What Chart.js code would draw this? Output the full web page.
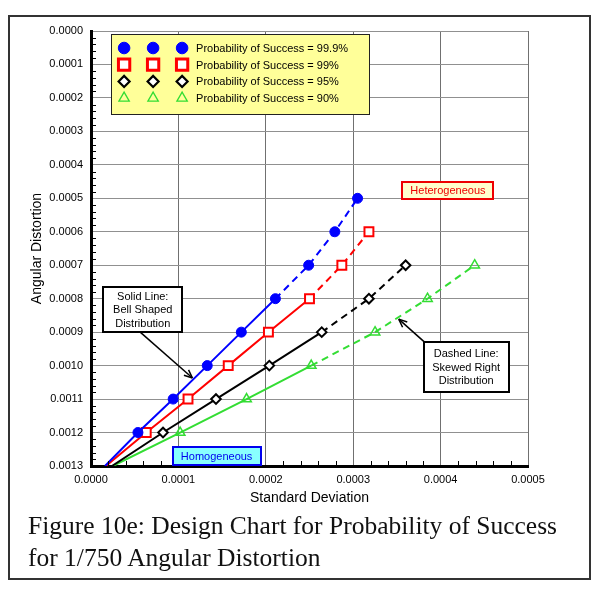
<!DOCTYPE html>
<html>
<head>
<meta charset="utf-8">
<script src="https://cdn.jsdelivr.net/npm/chart.js@4/dist/chart.umd.min.js"></script>
<style>
  body { margin: 0; background: #fff; }
  #wrap { position: relative; width: 600px; height: 600px; }
  #frame { position: absolute; left: 8px; top: 15px; width: 579px; height: 561px; border: 2px solid #333; }
  #chart { position: absolute; left: 0; top: 0; }
  #caption { position: absolute; left: 28px; top: 510px; font-family: "Liberation Serif", serif; font-size: 25.5px; line-height: 32px; color: #111; white-space: nowrap; }
</style>
</head>
<body>
<div id="wrap">
  <div id="frame"></div>
  <canvas id="chart" width="600" height="520"></canvas>
  <div id="caption">Figure 10e: Design Chart for Probability of Success<br>for 1/750 Angular Distortion</div>
</div>
<script>
// angular distortion levels (y) and standard deviation read for each curve (x)
const distortion = [0.0013, 0.0012, 0.0011, 0.0010, 0.0009, 0.0008, 0.0007, 0.0006, 0.0005];

const sd999 = [0.000016, 0.0000537, 0.000094, 0.000133, 0.000172, 0.000211, 0.000249, 0.000279, 0.000305];
const sd99 = [0.000017, 0.0000632, 0.000111, 0.000157, 0.000203, 0.000250, 0.000287, 0.000318];
const sd95 = [0.000024, 0.0000824, 0.000143, 0.000204, 0.000264, 0.000318, 0.000360];
const sd90 = [0.000025, 0.000102, 0.000178, 0.000252, 0.000325, 0.000385, 0.000439];

// last index of the solid (bell shaped) part of each curve
const solidEnd = [5, 5, 4, 3];

const seriesLabels = [
  "Probability of Success = 99.9%",
  "Probability of Success = 99%",
  "Probability of Success = 95%",
  "Probability of Success = 90%"
];

const xTicks = [0, 0.0001, 0.0002, 0.0003, 0.0004, 0.0005];
const yTicks = [0, 0.0001, 0.0002, 0.0003, 0.0004, 0.0005, 0.0006, 0.0007, 0.0008, 0.0009, 0.0010, 0.0011, 0.0012, 0.0013];

const FONT = "'Liberation Sans', Arial, sans-serif";

const styles = [
  { color: "#0000ff", point: "circle", radius: 5, fill: "#0000ff", bw: 1 },
  { color: "#ff0000", point: "rect", radius: 6.3, fill: "#ffffff", bw: 2 },
  { color: "#000000", point: "rectRot", radius: 4.8, fill: "#ffffff", bw: 2 },
  { color: "#33dd33", point: "triangle", radius: 5.5, fill: "rgba(255,255,255,0)", bw: 1.5 }
];

function makeData(xs) {
  return xs.map((x, i) => ({ x: x, y: distortion[i] }));
}

const allSd = [sd999, sd99, sd95, sd90];

const datasets = allSd.map((xs, k) => {
  const s = styles[k];
  return {
    label: seriesLabels[k],
    data: makeData(xs),
    showLine: true,
    borderColor: s.color,
    borderWidth: 2,
    pointStyle: s.point,
    pointRadius: xs.map((_, i) => (i === 0 ? 0 : s.radius)),
    pointBackgroundColor: s.fill,
    pointBorderColor: s.color,
    pointBorderWidth: s.bw,
    segment: {
      borderDash: ctx => (ctx.p0DataIndex >= solidEnd[k] ? [7, 5] : undefined)
    }
  };
});

// text boxes, placed in data units
const notes = [
  { lines: ["Heterogeneous"], x: 0.0004084, y: 0.000476, w: 91, h: 17, fill: "#ffffcc", stroke: "#ee0000", text: "#ee0000", bw: 2 },
  { lines: ["Homogeneous"], x: 0.0001437, y: 0.001270, w: 88, h: 18, fill: "#88ffff", stroke: "#0000ee", text: "#0000ee", bw: 2 },
  { lines: ["Solid Line:", "Bell Shaped", "Distribution"], x: 0.0000592, y: 0.000832, w: 79, h: 45, fill: "#ffffff", stroke: "#000", text: "#000", bw: 2 },
  { lines: ["Dashed Line:", "Skewed Right", "Distribution"], x: 0.0004293, y: 0.001004, w: 85, h: 50, fill: "#ffffff", stroke: "#000", text: "#000", bw: 2 }
];

const arrows = [
  { x0: 0.0000563, y0: 0.000900, x1: 0.0001161, y1: 0.001037 },
  { x0: 0.0003813, y0: 0.000929, x1: 0.0003521, y1: 0.000861 }
];

function drawArrow(c, ax, ay, bx, by) {
  const ang = Math.atan2(by - ay, bx - ax);
  c.strokeStyle = "#000";
  c.lineWidth = 1.5;
  c.beginPath();
  c.moveTo(ax, ay);
  c.lineTo(bx, by);
  c.stroke();
  c.beginPath();
  c.moveTo(bx, by);
  c.lineTo(bx - 9 * Math.cos(ang - 0.4), by - 9 * Math.sin(ang - 0.4));
  c.moveTo(bx, by);
  c.lineTo(bx - 9 * Math.cos(ang + 0.4), by - 9 * Math.sin(ang + 0.4));
  c.stroke();
}

const extras = {
  id: "extras",
  afterDraw(chart) {
    const c = chart.ctx;
    const xs = chart.scales.x, ys = chart.scales.y;
    const area = chart.chartArea;

    // minor ticks, pointing inward
    c.save();
    c.strokeStyle = "#000";
    c.lineWidth = 1;
    for (let i = 0; i < yTicks.length - 1; i++) {
      for (let m = 1; m < 5; m++) {
        const py = Math.round(ys.getPixelForValue(yTicks[i] + (yTicks[i + 1] - yTicks[i]) * m / 5)) + 0.5;
        c.beginPath(); c.moveTo(area.left, py); c.lineTo(area.left + 5, py); c.stroke();
      }
    }
    for (let i = 0; i < xTicks.length - 1; i++) {
      for (let m = 1; m < 5; m++) {
        const px = Math.round(xs.getPixelForValue(xTicks[i] + (xTicks[i + 1] - xTicks[i]) * m / 5)) + 0.5;
        c.beginPath(); c.moveTo(px, area.bottom); c.lineTo(px, area.bottom - 5); c.stroke();
      }
    }

    // legend box
    const lx = xs.getPixelForValue(0.000023), ly = ys.getPixelForValue(0.000009);
    c.fillStyle = "#ffff99";
    c.fillRect(lx, ly, 258, 80);
    c.strokeStyle = "#222";
    c.lineWidth = 1;
    c.strokeRect(Math.round(lx) + 0.5, Math.round(ly) + 0.5, 258, 80);
    const legStyles = [
      { r: 5.8, bw: 1 }, { r: 8, bw: 3 }, { r: 5.5, bw: 2.2 }, { r: 6, bw: 1.3 }
    ];
    c.font = "11px " + FONT;
    c.textBaseline = "middle";
    c.textAlign = "left";
    styles.forEach((s, k) => {
      const rowY = ly + 14 + k * 16.7;
      [13, 42, 71].forEach(dx => {
        c.fillStyle = s.fill;
        c.strokeStyle = s.color;
        c.lineWidth = legStyles[k].bw;
        Chart.helpers.drawPoint(c, { pointStyle: s.point, radius: legStyles[k].r, rotation: 0, borderWidth: legStyles[k].bw }, lx + dx, rowY);
      });
      c.fillStyle = "#000";
      c.fillText(seriesLabels[k], lx + 85, rowY + 1);
    });

    // arrows
    arrows.forEach(a => {
      drawArrow(c, xs.getPixelForValue(a.x0), ys.getPixelForValue(a.y0), xs.getPixelForValue(a.x1), ys.getPixelForValue(a.y1));
    });

    // note boxes
    notes.forEach(n => {
      const cx = xs.getPixelForValue(n.x), cy = ys.getPixelForValue(n.y);
      const bx = Math.round(cx - n.w / 2), by = Math.round(cy - n.h / 2);
      c.fillStyle = n.fill;
      c.fillRect(bx, by, n.w, n.h);
      c.strokeStyle = n.stroke;
      c.lineWidth = n.bw;
      c.strokeRect(bx, by, n.w, n.h);
      c.fillStyle = n.text;
      c.textAlign = "center";
      c.textBaseline = "middle";
      const lh = 13.5;
      n.lines.forEach((t, i) => {
        c.fillText(t, cx, cy + (i - (n.lines.length - 1) / 2) * lh + 1);
      });
    });
    c.restore();
  }
};

new Chart(document.getElementById("chart"), {
  type: "scatter",
  data: { datasets: datasets },
  options: {
    responsive: false,
    animation: false,
    layout: { padding: { left: 0, right: 72, top: 31, bottom: 0 } },
    plugins: { legend: { display: false }, tooltip: { enabled: false } },
    scales: {
      x: {
        type: "linear",
        min: 0,
        max: 0.0005,
        afterBuildTicks: s => { s.ticks = xTicks.map(v => ({ value: v })); },
        afterFit: s => { s.height = 54; },
        ticks: { callback: v => v.toFixed(4), color: "#000", font: { family: FONT, size: 11 }, padding: 7, maxRotation: 0 },
        grid: { color: "#707070", lineWidth: 1, drawTicks: false },
        border: { color: "#000", width: 3 },
        title: { display: true, text: "Standard Deviation", color: "#000", font: { family: FONT, size: 14 }, padding: { top: 0, bottom: 13 } }
      },
      y: {
        type: "linear",
        reverse: true,
        min: 0,
        max: 0.0013,
        afterBuildTicks: s => { s.ticks = yTicks.map(v => ({ value: v })); },
        afterFit: s => { s.width = 91; },
        ticks: { callback: v => v.toFixed(4), color: "#000", font: { family: FONT, size: 11 }, padding: 8 },
        grid: { color: "#909090", lineWidth: 1, drawTicks: false },
        border: { color: "#000", width: 3 },
        title: { display: true, text: "Angular Distortion", color: "#000", font: { family: FONT, size: 14 }, padding: { top: 29, bottom: 0 } }
      }
    }
  },
  plugins: [extras]
});
</script>
</body>
</html>
